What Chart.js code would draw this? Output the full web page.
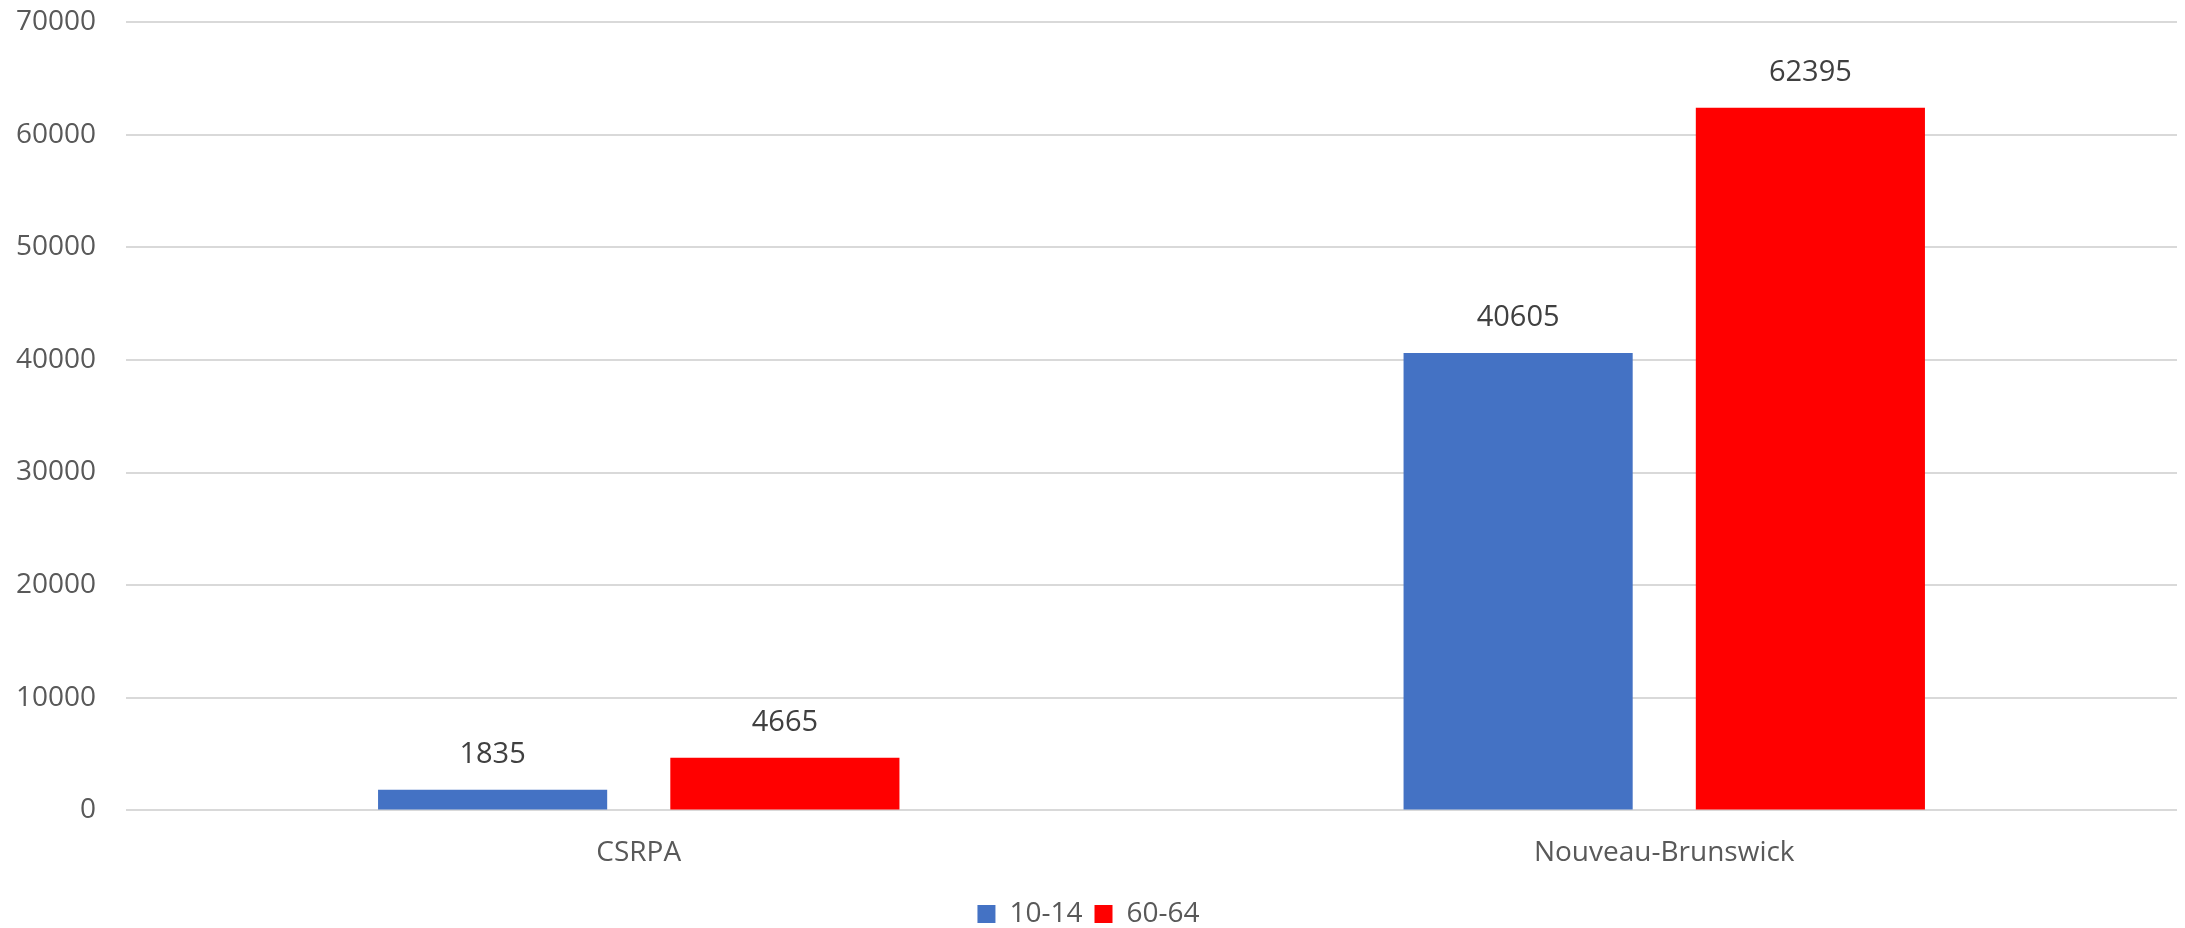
<!DOCTYPE html>
<html>
<head>
<meta charset="utf-8">
<script src="https://cdn.jsdelivr.net/npm/chart.js@4/dist/chart.umd.min.js"></script>
<style>
    body { margin: 0; background: #ffffff; }
    #chartBox { width: 2185px; height: 928px; }
</style>
</head>
<body>
<div id="chartBox"><canvas id="myBarChart" width="2185" height="928"></canvas></div>
<script>
// DATA
const regions = ['CSRPA', 'Nouveau-Brunswick'];
const seriesNames = ['10-14', '60-64'];
const age10to14 = [1835, 40605];
const age60to64 = [4665, 62395];
const yTicks = [0, 10000, 20000, 30000, 40000, 50000, 60000, 70000];

const fontName = "'Open Sans', 'Liberation Sans', sans-serif";

// Value labels above each bar (no datalabels plugin offline)
const barValues = {
    id: 'barValues',
    afterDatasetsDraw(chart) {
        const ctx = chart.ctx;
        ctx.save();
        ctx.font = '29px ' + fontName;
        ctx.fillStyle = '#404040';
        ctx.textAlign = 'center';
        ctx.textBaseline = 'middle';
        chart.data.datasets.forEach(function (ds, i) {
            chart.getDatasetMeta(i).data.forEach(function (bar, j) {
                ctx.fillText(ds.data[j], bar.x, bar.y - 35);
            });
        });
        ctx.restore();
    }
};

// BAR CHART
const barChart = new Chart(document.getElementById('myBarChart'), {
    type: 'bar',
    data: {
        labels: regions,
        datasets: [{
            label: seriesNames[0],
            data: age10to14,
            backgroundColor: '#4472C4',
            categoryPercentage: 0.57,
            barPercentage: 0.784
        },
        {
            label: seriesNames[1],
            data: age60to64,
            backgroundColor: '#FF0000',
            categoryPercentage: 0.57,
            barPercentage: 0.784
        }]
    },
    options: {
        responsive: false,
        animation: false,
        layout: {
            padding: { top: 22, right: 8, left: 0, bottom: -10 }
        },
        plugins: {
            tooltip: { enabled: false },
            legend: {
                position: 'bottom',
                labels: {
                    boxWidth: 18,
                    boxHeight: 18,
                    padding: 12,
                    color: '#595959',
                    font: { family: fontName, size: 28 }
                }
            }
        },
        scales: {
            x: {
                grid: { display: false },
                border: { display: false },
                ticks: {
                    color: '#595959',
                    padding: 18,
                    font: { family: fontName, size: 28 }
                }
            },
            y: {
                min: 0,
                max: 70000,
                afterFit: function (scale) {
                    scale.width = 126;
                    // top label may overflow, keep plot top at layout padding
                    scale.paddingTop = 0;
                    scale.paddingBottom = 0;
                },
                afterBuildTicks: function (scale) {
                    scale.ticks = yTicks.map(function (v) { return { value: v }; });
                },
                grid: { color: '#D9D9D9', lineWidth: 2, drawTicks: false },
                border: { display: false },
                ticks: {
                    color: '#595959',
                    padding: 30,
                    font: { family: fontName, size: 28 },
                    callback: function (value) { return String(value); }
                }
            }
        }
    },
    plugins: [barValues]
});
</script>
</body>
</html>
